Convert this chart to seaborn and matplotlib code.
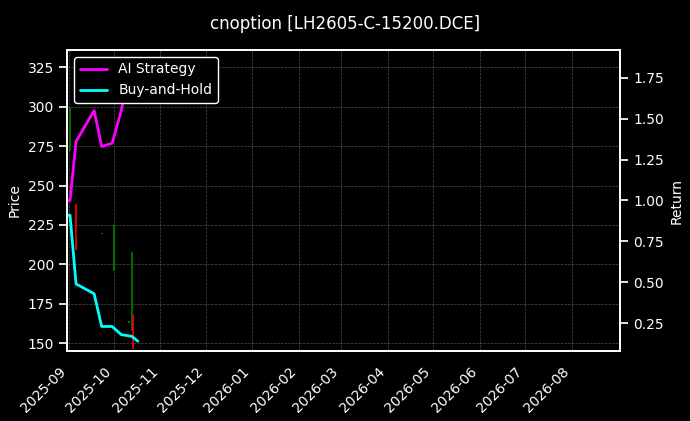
import matplotlib
matplotlib.use("Agg")
import matplotlib.pyplot as plt
import seaborn as sns
import pandas as pd
import numpy as np

sns.set_theme(style="dark")
plt.style.use("dark_background")
plt.rcParams["font.size"] = 10

line_dates = ["2025-09-01", "2025-09-02", "2025-09-06", "2025-09-18", "2025-09-23",
              "2025-09-30", "2025-10-06", "2025-10-13", "2025-10-17"]
ai_return = [1.00, 1.00, 1.36, 1.55, 1.33, 1.35, 1.55, 1.85, np.nan]
bh_return = [0.91, 0.91, 0.49, 0.43, 0.23, 0.23, 0.18, 0.17, 0.14]

candle_dates = ["2025-09-02", "2025-09-06", "2025-09-23", "2025-10-01", "2025-10-11", "2025-10-13", "2025-10-14"]
c_open = [285, 238, 220, 197, 163, 160, 168]
c_close = [297, 209, 219, 224, 164, 205, 147]
c_high = [299, 238, 220, 225, 164, 208, 168]
c_low = [272, 209, 219, 196, 163, 158, 146]

df = pd.DataFrame({"date": pd.to_datetime(line_dates), "AI Strategy": ai_return, "Buy-and-Hold": bh_return})
cd = pd.DataFrame({"date": pd.to_datetime(candle_dates), "open": c_open, "close": c_close,
                   "high": c_high, "low": c_low})

fig = plt.figure(figsize=(6.9, 4.21), dpi=100, facecolor="black")
ax = fig.add_axes([67/690, 1-351/421, (620-67)/690, (351-50)/421])
ax.set_facecolor("black")
up = cd["close"] >= cd["open"]
ax.vlines(cd["date"][up], cd["low"][up], cd["high"][up], color="green", lw=1.2)
ax.vlines(cd["date"][~up], cd["low"][~up], cd["high"][~up], color="red", lw=1.2)
ax.set_ylim(145, 336)
ax.set_ylabel("Price", color="white", fontsize=10)
ax.grid(True, color="gray", ls="--", lw=0.5, alpha=0.6)

ax2 = ax.twinx()
sns.lineplot(data=df, x="date", y="AI Strategy", ax=ax2, color="magenta", lw=2, label="AI Strategy")
sns.lineplot(data=df, x="date", y="Buy-and-Hold", ax=ax2, color="cyan", lw=2, label="Buy-and-Hold")
ax2.set_ylim(0.08, 1.92)
ax2.set_ylabel("Return", color="white", fontsize=10)
ax2.set_xlabel("")
ax2.tick_params(labelsize=10)
ax.tick_params(labelsize=10)
ax.set_xlim(pd.Timestamp("2025-08-31"), pd.Timestamp("2026-09-02"))
ticks = pd.date_range("2025-09-01", "2026-08-01", freq="MS")
ax.set_xticks(ticks)
ax.set_xticklabels([t.strftime("%Y-%m") for t in ticks], rotation=45, ha="right")
ax2.legend(loc="upper left", facecolor="black", edgecolor="white", framealpha=1, fontsize=10)
for s in list(ax.spines.values()) + list(ax2.spines.values()):
    s.set_color("white")
fig.suptitle("cnoption [LH2605-C-15200.DCE]", color="white", y=0.965, fontsize=12)
fig.savefig("out.png", dpi=100, facecolor="black")
